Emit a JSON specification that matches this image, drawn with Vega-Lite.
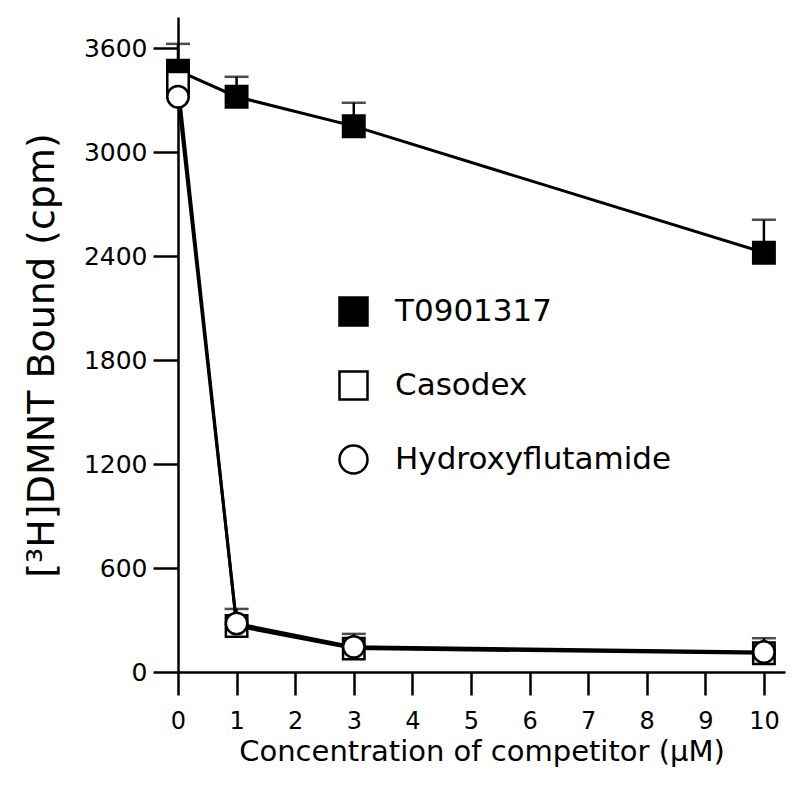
{
  "$schema": "https://vega.github.io/schema/vega-lite/v6.json",
  "width": 607,
  "height": 655,
  "autosize": {"type": "none"},
  "padding": {"left": 178, "top": 17, "right": 15, "bottom": 116},
  "background": "white",
  "config": {
    "view": {"stroke": null},
    "font": "DejaVu Sans",
    "axis": {
      "domainColor": "black",
      "domainWidth": 2.5,
      "tickColor": "black",
      "tickWidth": 2.5,
      "grid": false,
      "labelColor": "black",
      "titleColor": "black",
      "labelFont": "DejaVu Sans",
      "titleFont": "DejaVu Sans",
      "titleFontWeight": "normal"
    },
    "legend": {
      "orient": "none",
      "legendX": 160,
      "legendY": 279,
      "padding": 0,
      "labelFont": "DejaVu Sans",
      "labelFontSize": 31,
      "labelColor": "black",
      "labelOffset": 26,
      "labelLimit": 0,
      "rowPadding": 35,
      "symbolSize": 784,
      "symbolStrokeWidth": 2.5,
      "symbolStrokeColor": "black"
    }
  },
  "data": {
    "values": [
      {"series": "T0901317", "x": 0, "y": 3470, "upper": 3625},
      {"series": "T0901317", "x": 1, "y": 3320, "upper": 3435},
      {"series": "T0901317", "x": 3, "y": 3150, "upper": 3285},
      {"series": "T0901317", "x": 10, "y": 2420, "upper": 2610},
      {"series": "Casodex", "x": 0, "y": 3400},
      {"series": "Casodex", "x": 1, "y": 265, "upper": 364},
      {"series": "Casodex", "x": 3, "y": 135, "upper": 220},
      {"series": "Casodex", "x": 10, "y": 108, "upper": 195},
      {"series": "Hydroxyflutamide", "x": 0, "y": 3320},
      {"series": "Hydroxyflutamide", "x": 1, "y": 280},
      {"series": "Hydroxyflutamide", "x": 3, "y": 145},
      {"series": "Hydroxyflutamide", "x": 10, "y": 115}
    ]
  },
  "layer": [
    {
      "mark": {"type": "line", "color": "black", "strokeWidth": 3},
      "encoding": {
        "x": {
          "field": "x",
          "type": "quantitative",
          "scale": {"domain": [0, 10.36], "nice": false, "zero": false},
          "axis": {
            "values": [0, 1, 2, 3, 4, 5, 6, 7, 8, 9, 10],
            "format": "d",
            "tickSize": 23,
            "labelFontSize": 24,
            "labelPadding": 14,
            "labelFlush": false,
            "title": "Concentration of competitor (μM)",
            "titleFontSize": 29,
            "titlePadding": 4
          }
        },
        "y": {
          "field": "y",
          "type": "quantitative",
          "scale": {"domain": [0, 3780], "nice": false},
          "axis": {
            "values": [0, 600, 1200, 1800, 2400, 3000, 3600],
            "format": "d",
            "tickSize": 25,
            "labelFontSize": 25,
            "labelPadding": 6,
            "title": "[³H]DMNT Bound (cpm)",
            "titleFontSize": 38,
            "titlePadding": 22,
            "titleY": 338
          }
        },
        "detail": {"field": "series"}
      }
    },
    {
      "transform": [{"filter": "isValid(datum.upper)"}],
      "mark": {"type": "rule", "color": "black", "strokeWidth": 2.5},
      "encoding": {
        "x": {"field": "x", "type": "quantitative"},
        "y": {"field": "y", "type": "quantitative"},
        "y2": {"field": "upper"}
      }
    },
    {
      "transform": [{"filter": "isValid(datum.upper)"}],
      "mark": {"type": "tick", "orient": "horizontal", "color": "black", "thickness": 2.5, "size": 24},
      "encoding": {
        "x": {"field": "x", "type": "quantitative"},
        "y": {"field": "upper", "type": "quantitative"}
      }
    },
    {
      "mark": {"type": "point", "filled": true, "strokeWidth": 2.5, "size": 460, "opacity": 1},
      "encoding": {
        "x": {"field": "x", "type": "quantitative"},
        "y": {"field": "y", "type": "quantitative"},
        "shape": {
          "field": "series",
          "type": "nominal",
          "scale": {"domain": ["T0901317", "Casodex", "Hydroxyflutamide"], "range": ["square", "square", "circle"]},
          "legend": {"title": null}
        },
        "fill": {
          "field": "series",
          "type": "nominal",
          "scale": {"domain": ["T0901317", "Casodex", "Hydroxyflutamide"], "range": ["black", "white", "white"]},
          "legend": {"title": null}
        },
        "stroke": {
          "field": "series",
          "type": "nominal",
          "scale": {"domain": ["T0901317", "Casodex", "Hydroxyflutamide"], "range": ["black", "black", "black"]},
          "legend": {"title": null}
        }
      }
    }
  ]
}
